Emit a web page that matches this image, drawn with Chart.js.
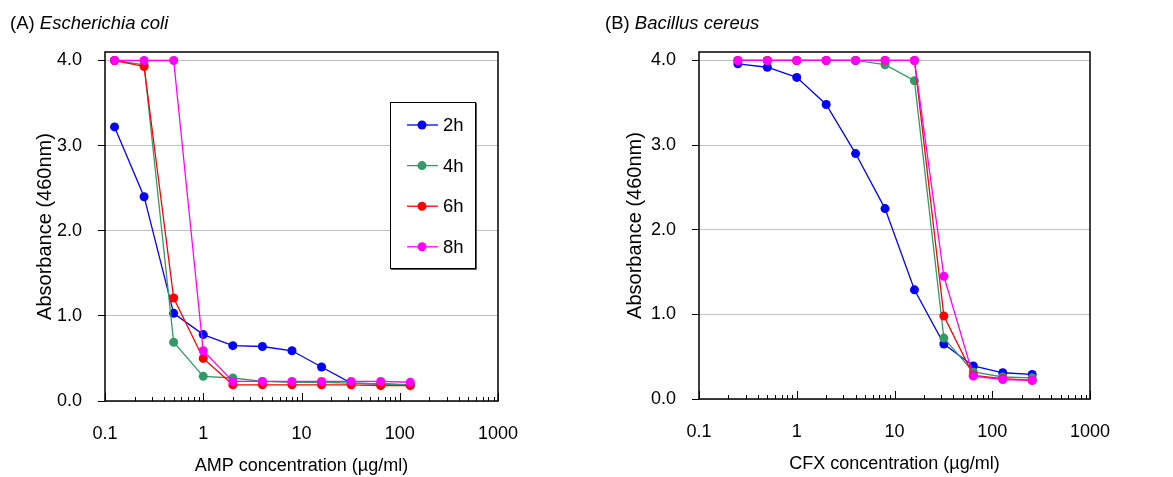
<!DOCTYPE html>
<html>
<head>
<meta charset="utf-8">
<script src="https://cdn.jsdelivr.net/npm/chart.js@4/dist/chart.umd.min.js"></script>
<style>
  body { margin: 0; background: #fff; font-family: "Liberation Sans", Arial, sans-serif; }
  #wrap { position: relative; width: 1173px; height: 477px; overflow: hidden; }
  .panel { position: absolute; top: 0; }
  .caption { position: absolute; top: 12px; font-size: 18.5px; color: #000; white-space: nowrap; }
</style>
</head>
<body>
<div id="wrap">
  <canvas id="chartA" class="panel" width="586" height="477" style="left:0"></canvas>
  <canvas id="chartB" class="panel" width="587" height="477" style="left:586px"></canvas>
  <div class="caption" style="left:10px">(A) <i>Escherichia coli</i></div>
  <div class="caption" style="left:605px">(B) <i>Bacillus cereus</i></div>
</div>
<script>
const hours = ['2h', '4h', '6h', '8h'];
const colors = ['#0000ff', '#339966', '#ff0000', '#ff00ff'];

// E. coli vs ampicillin
const ampConc = [0.125, 0.25, 0.5, 1, 2, 4, 8, 16, 32, 64, 128];
const amp2h = [3.22, 2.40, 1.03, 0.78, 0.65, 0.64, 0.59, 0.40, 0.21, 0.20, 0.19];
const amp4h = [4.00, 3.95, 0.69, 0.29, 0.27, 0.23, 0.22, 0.22, 0.21, 0.20, 0.19];
const amp6h = [4.00, 3.93, 1.21, 0.50, 0.19, 0.19, 0.19, 0.19, 0.19, 0.18, 0.18];
const amp8h = [4.00, 4.00, 4.00, 0.59, 0.23, 0.23, 0.23, 0.23, 0.23, 0.23, 0.22];

// B. cereus vs cefotaxime
const cfxConc = [0.25, 0.5, 1, 2, 4, 8, 16, 32, 64, 128, 256];
const cfx2h = [3.96, 3.92, 3.80, 3.48, 2.90, 2.25, 1.29, 0.65, 0.39, 0.31, 0.29];
const cfx4h = [4.00, 4.00, 4.00, 4.00, 4.00, 3.95, 3.76, 0.72, 0.32, 0.26, 0.25];
const cfx6h = [4.00, 4.00, 4.00, 4.00, 4.00, 4.00, 4.00, 0.98, 0.28, 0.24, 0.22];
const cfx8h = [4.00, 4.00, 4.00, 4.00, 4.00, 4.00, 4.00, 1.45, 0.27, 0.23, 0.22];

const yTicks = [0, 1, 2, 3, 4];
const xDecades = [0.1, 1, 10, 100, 1000];

// log axis ticks: 1..9 in every decade
const xTickValues = [];
xDecades.slice(0, -1).forEach(d => {
  for (let m = 1; m <= 9; m++) xTickValues.push(d * m);
});
xTickValues.push(1000);

const family = '"Liberation Sans", Arial, sans-serif';
const tickFont = { family, size: 18 };
const xTitleFont = { family, size: 18 };
const yTitleFont = { family, size: 20 };

function seriesSet(conc, series) {
  return series.map((vals, i) => ({
    label: hours[i],
    data: vals.map((v, j) => ({ x: conc[j], y: v })),
    borderColor: colors[i],
    backgroundColor: colors[i],
    borderWidth: 1.3,
    pointRadius: 4.5,
    pointHoverRadius: 4.5,
    pointBorderWidth: 0,
    tension: 0,
    order: series.length - 1 - i
  }));
}

// plot frame + inward minor/major ticks on the log axis
const frame = {
  id: 'frame',
  beforeDatasetsDraw(chart) {
    const { ctx, chartArea: a, scales: { x } } = chart;
    ctx.save();
    ctx.strokeStyle = '#000';
    ctx.lineWidth = 1;
    x.ticks.forEach(t => {
      const px = Math.round(x.getPixelForValue(t.value)) + 0.5;
      const len = xDecades.includes(t.value) ? 8 : 4;
      ctx.beginPath();
      ctx.moveTo(px, a.bottom);
      ctx.lineTo(px, a.bottom - len);
      ctx.stroke();
    });
    ctx.lineWidth = 1.5;
    ctx.strokeRect(a.left, a.top, a.right - a.left, a.bottom - a.top);
    ctx.restore();
  }
};

// boxed legend inside the plot of panel A
const boxLegend = {
  id: 'boxLegend',
  afterDraw(chart) {
    const { ctx, chartArea: a } = chart;
    const x0 = a.left + 285, y0 = a.top + 50, w = 85, h = 166;
    ctx.save();
    ctx.fillStyle = '#fff';
    ctx.fillRect(x0, y0, w, h);
    ctx.strokeStyle = '#555';
    ctx.lineWidth = 1;
    ctx.beginPath();
    ctx.moveTo(x0 + w + 1.5, y0 + 1);
    ctx.lineTo(x0 + w + 1.5, y0 + h + 1.5);
    ctx.lineTo(x0 + 1, y0 + h + 1.5);
    ctx.stroke();
    ctx.strokeStyle = '#000';
    ctx.strokeRect(x0 + 0.5, y0 + 0.5, w, h);
    ctx.font = '18.5px ' + family;
    ctx.textBaseline = 'middle';
    chart.data.datasets.forEach((ds, i) => {
      const cy = y0 + 23 + i * 40.6;
      ctx.strokeStyle = ds.borderColor;
      ctx.fillStyle = ds.borderColor;
      ctx.lineWidth = 1.3;
      ctx.beginPath();
      ctx.moveTo(x0 + 17, cy);
      ctx.lineTo(x0 + 48, cy);
      ctx.stroke();
      ctx.beginPath();
      ctx.arc(x0 + 32, cy, 4.5, 0, Math.PI * 2);
      ctx.fill();
      ctx.fillStyle = '#000';
      ctx.fillText(ds.label, x0 + 53, cy + 1);
    });
    ctx.restore();
  }
};

function makeOptions(cfg) {
  return {
    responsive: false,
    animation: false,
    events: [],
    layout: { padding: { top: 52, right: cfg.padRight, bottom: 0, left: 0 } },
    plugins: { legend: { display: false }, tooltip: { enabled: false } },
    scales: {
      x: {
        type: 'logarithmic',
        min: 0.1,
        max: 1000,
        afterBuildTicks: s => { s.ticks = xTickValues.map(v => ({ value: v })); },
        afterFit: s => { s.height = cfg.xHeight; },
        grid: { display: false, drawTicks: false },
        border: { display: false },
        ticks: {
          autoSkip: false,
          maxRotation: 0,
          padding: 22,
          color: '#000',
          font: tickFont,
          callback: v => xDecades.includes(v) ? String(v) : ''
        },
        title: {
          display: true,
          text: cfg.xTitle,
          color: '#000',
          font: xTitleFont,
          padding: { top: 0, bottom: cfg.xTitlePad }
        }
      },
      y: {
        min: 0,
        max: 4.1,
        afterBuildTicks: s => { s.ticks = yTicks.map(v => ({ value: v })); },
        afterFit: s => { s.width = cfg.yWidth; },
        grid: { color: '#c0c0c0', lineWidth: 1, tickColor: '#000', tickLength: 7 },
        border: { display: false },
        ticks: { padding: 16, color: '#000', font: tickFont, callback: v => v.toFixed(1) },
        title: {
          display: true,
          text: 'Absorbance (460nm)',
          color: '#000',
          font: yTitleFont,
          padding: { top: cfg.yTitlePad, bottom: 0 }
        }
      }
    }
  };
}

new Chart(document.getElementById('chartA'), {
  type: 'line',
  data: { datasets: seriesSet(ampConc, [amp2h, amp4h, amp6h, amp8h]) },
  options: makeOptions({
    padRight: 88, xHeight: 76, yWidth: 105, yTitlePad: 33, xTitlePad: 0,
    xTitle: 'AMP concentration (µg/ml)'
  }),
  plugins: [frame, boxLegend]
});

new Chart(document.getElementById('chartB'), {
  type: 'line',
  data: { datasets: seriesSet(cfxConc, [cfx2h, cfx4h, cfx6h, cfx8h]) },
  options: makeOptions({
    padRight: 83, xHeight: 78, yWidth: 113, yTitlePad: 37, xTitlePad: 2,
    xTitle: 'CFX concentration (µg/ml)'
  }),
  plugins: [frame]
});
</script>
</body>
</html>
